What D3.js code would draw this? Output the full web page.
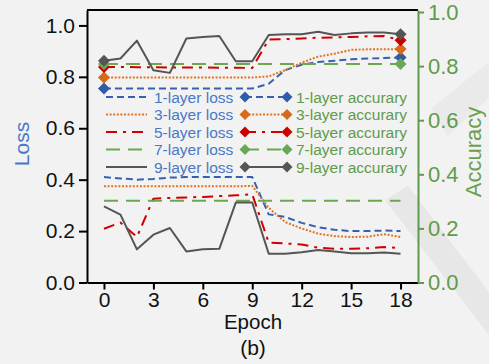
<!DOCTYPE html>
<html>
<head>
<meta charset="utf-8">
<script src="https://cdn.jsdelivr.net/npm/d3@7/dist/d3.min.js"></script>
<style>
	html, body { margin: 0; padding: 0; background: #f2f2f2; }
	svg { display: block; font-family: Arial, "Liberation Sans", sans-serif; }
</style>
</head>
<body>
<svg id="chart" width="489" height="364"></svg>
<script>
// epochs and tick labels
const epochs = d3.range(0, 19);
const xTicks = [0, 3, 6, 9, 12, 15, 18];
const lossTicks = [0.0, 0.2, 0.4, 0.6, 0.8, 1.0];
const accTicks = [0.0, 0.2, 0.4, 0.6, 0.8, 1.0];

// loss values (left axis)
const loss1 = [0.410, 0.405, 0.400, 0.403, 0.408, 0.410, 0.410, 0.410, 0.410, 0.410, 0.265, 0.255, 0.232, 0.215, 0.205, 0.200, 0.200, 0.202, 0.200];
const loss3 = [0.374, 0.374, 0.374, 0.374, 0.374, 0.374, 0.374, 0.374, 0.374, 0.376, 0.290, 0.235, 0.210, 0.190, 0.180, 0.177, 0.178, 0.188, 0.177];
const loss5 = [0.209, 0.233, 0.177, 0.326, 0.329, 0.331, 0.333, 0.336, 0.339, 0.343, 0.155, 0.152, 0.148, 0.135, 0.131, 0.131, 0.133, 0.138, 0.134];
const loss7 = [0.318, 0.318, 0.318, 0.318, 0.318, 0.318, 0.318, 0.318, 0.318, 0.318, 0.318, 0.318, 0.318, 0.318, 0.318, 0.318, 0.318, 0.318, 0.318];
const loss9 = [0.296, 0.264, 0.129, 0.186, 0.212, 0.121, 0.129, 0.131, 0.311, 0.311, 0.112, 0.112, 0.118, 0.126, 0.121, 0.114, 0.114, 0.117, 0.112];

// accuracy values (right axis)
const acc1 = [0.717, 0.717, 0.717, 0.717, 0.717, 0.717, 0.717, 0.717, 0.717, 0.717, 0.735, 0.785, 0.805, 0.815, 0.820, 0.825, 0.828, 0.830, 0.832];
const acc3 = [0.758, 0.758, 0.758, 0.758, 0.758, 0.758, 0.758, 0.758, 0.758, 0.758, 0.762, 0.785, 0.813, 0.835, 0.846, 0.860, 0.862, 0.862, 0.863];
const acc5 = [0.797, 0.797, 0.796, 0.796, 0.795, 0.795, 0.795, 0.794, 0.794, 0.793, 0.898, 0.900, 0.902, 0.905, 0.906, 0.908, 0.910, 0.911, 0.896];
const acc7 = [0.808, 0.808, 0.808, 0.808, 0.808, 0.808, 0.808, 0.808, 0.808, 0.808, 0.808, 0.808, 0.808, 0.808, 0.808, 0.808, 0.808, 0.808, 0.808];
const acc9 = [0.820, 0.828, 0.894, 0.785, 0.775, 0.902, 0.908, 0.911, 0.818, 0.818, 0.915, 0.918, 0.918, 0.927, 0.915, 0.921, 0.924, 0.924, 0.918];

const lossNames = ['1-layer loss', '3-layer loss', '5-layer loss', '7-layer loss', '9-layer loss'];
const accNames = ['1-layer accurary', '3-layer accurary', '5-layer accurary', '7-layer accurary', '9-layer accurary'];

const styles = [
	{color: '#3561b0', dash: '7,4', mark: '#2f5ca8'},
	{color: '#e2731f', dash: '2,1.6', mark: '#d8681a'},
	{color: '#d10000', dash: '11,6,3,6', mark: '#cc0000'},
	{color: '#6aa84f', dash: '14,8', mark: '#6aa857'},
	{color: '#555555', dash: null, mark: '#555555'}
];

const svg = d3.select('#chart'),
	pLeft = 87, pRight = 418, pTop = 10, pBottom = 282.5;

// faint watermark background
svg.append('rect').attr('width', 489).attr('height', 364).attr('fill', '#f2f2f2');
svg.append('path').attr('d', 'M385,200 L408,186 L489,292 L489,335 Z').attr('fill', '#e7e7e7');
svg.append('path').attr('d', 'M432,108 L489,62 L489,98 L447,136 Z').attr('fill', '#eaeaea');

let x = d3.scaleLinear().domain([-1.03, 19.06]).range([pLeft, pRight]),
	yL = d3.scaleLinear().domain([0, 1.06]).range([pBottom, pTop]),
	yR = d3.scaleLinear().domain([0, 1.0074]).range([pBottom, pTop]);

// frame
svg.append('line').attr('x1', pLeft).attr('x2', pRight).attr('y1', pTop).attr('y2', pTop)
	.attr('stroke', '#000').attr('stroke-width', 2);

let gx = svg.append('g')
	.attr('transform', `translate(0, ${pBottom})`)
	.call(d3.axisBottom(x).tickValues(xTicks).tickSize(7).tickPadding(3).tickSizeOuter(0));
gx.select('.domain').attr('stroke', '#000').attr('stroke-width', 2);
gx.selectAll('.tick line').attr('stroke', '#000').attr('stroke-width', 2);
gx.selectAll('.tick text').attr('font-size', 21).attr('fill', '#111').attr('font-family', 'Arial, "Liberation Sans", sans-serif');

let gl = svg.append('g')
	.attr('transform', `translate(${pLeft}, 0)`)
	.call(d3.axisLeft(yL).tickValues(lossTicks).tickFormat(d3.format('.1f')).tickSize(8).tickPadding(4).tickSizeOuter(0));
gl.select('.domain').attr('stroke', '#000').attr('stroke-width', 2);
gl.selectAll('.tick line').attr('stroke', '#000').attr('stroke-width', 2);
gl.selectAll('.tick text').attr('font-size', 21).attr('fill', '#111').attr('font-family', 'Arial, "Liberation Sans", sans-serif');

let gr = svg.append('g')
	.attr('transform', `translate(${pRight}, 0)`)
	.call(d3.axisRight(yR).tickValues(accTicks).tickFormat(d3.format('.1f')).tickSize(6).tickPadding(4).tickSizeOuter(0));
gr.select('.domain').attr('stroke', '#5f9b4c').attr('stroke-width', 2);
gr.selectAll('.tick line').attr('stroke', '#5f9b4c').attr('stroke-width', 2);
gr.selectAll('.tick text').attr('font-size', 22).attr('fill', '#5f9b4c').attr('font-family', 'Arial, "Liberation Sans", sans-serif');

// axis titles
svg.append('text')
	.attr('transform', 'translate(29, 144) rotate(-90)')
	.attr('text-anchor', 'middle')
	.attr('font-size', 21).attr('fill', '#4a78c8')
	.text('Loss');
svg.append('text')
	.attr('transform', 'translate(481, 152) rotate(-90)')
	.attr('text-anchor', 'middle')
	.attr('font-size', 22).attr('fill', '#6aa050')
	.text('Accuracy');
svg.append('text')
	.attr('x', 253).attr('y', 329)
	.attr('text-anchor', 'middle')
	.attr('font-size', 20.5).attr('fill', '#111')
	.text('Epoch');
svg.append('text')
	.attr('x', 253).attr('y', 355)
	.attr('text-anchor', 'middle')
	.attr('font-size', 21).attr('fill', '#111')
	.text('(b)');

let diamond = (cx, cy, r) => `M${cx},${cy - r}L${cx + r},${cy}L${cx},${cy + r}L${cx - r},${cy}Z`;

let lossLine = vals => d3.line().x((d, i) => x(epochs[i])).y(d => yL(d))(vals),
	accLine = vals => d3.line().x((d, i) => x(epochs[i])).y(d => yR(d))(vals);

const losses = [loss1, loss3, loss5, loss7, loss9],
	accs = [acc1, acc3, acc5, acc7, acc9];

let plot = svg.append('g');

losses.forEach((vals, k) => {
	plot.append('path')
		.attr('d', lossLine(vals))
		.attr('fill', 'none')
		.attr('stroke', styles[k].color)
		.attr('stroke-width', 2)
		.attr('stroke-dasharray', styles[k].dash)
		.attr('stroke-linejoin', 'round');
});

accs.forEach((vals, k) => {
	plot.append('path')
		.attr('d', accLine(vals))
		.attr('fill', 'none')
		.attr('stroke', styles[k].color)
		.attr('stroke-width', 2)
		.attr('stroke-dasharray', styles[k].dash)
		.attr('stroke-linejoin', 'round');
	[0, vals.length - 1].forEach(i => {
		plot.append('path')
			.attr('d', diamond(x(epochs[i]), yR(vals[i]), 6))
			.attr('fill', styles[k].mark);
	});
});

// legends
const rowY = [97, 114.5, 132, 149.5, 167];
let legend = svg.append('g').attr('font-size', 15.5);

lossNames.forEach((name, k) => {
	legend.append('line')
		.attr('x1', 106).attr('x2', 147).attr('y1', rowY[k]).attr('y2', rowY[k])
		.attr('stroke', styles[k].color).attr('stroke-width', 2)
		.attr('stroke-dasharray', styles[k].dash);
	legend.append('text')
		.attr('x', 154).attr('y', rowY[k]).attr('dy', '0.36em')
		.attr('fill', '#4a78c8')
		.text(name);
});

accNames.forEach((name, k) => {
	legend.append('line')
		.attr('x1', 245).attr('x2', 287).attr('y1', rowY[k]).attr('y2', rowY[k])
		.attr('stroke', styles[k].color).attr('stroke-width', 2)
		.attr('stroke-dasharray', styles[k].dash);
	legend.append('path').attr('d', diamond(245, rowY[k], 5.5)).attr('fill', styles[k].mark);
	legend.append('path').attr('d', diamond(287, rowY[k], 5.5)).attr('fill', styles[k].mark);
	legend.append('text')
		.attr('x', 296).attr('y', rowY[k]).attr('dy', '0.36em')
		.attr('fill', '#5f9b4c')
		.text(name);
});
</script>
</body>
</html>
